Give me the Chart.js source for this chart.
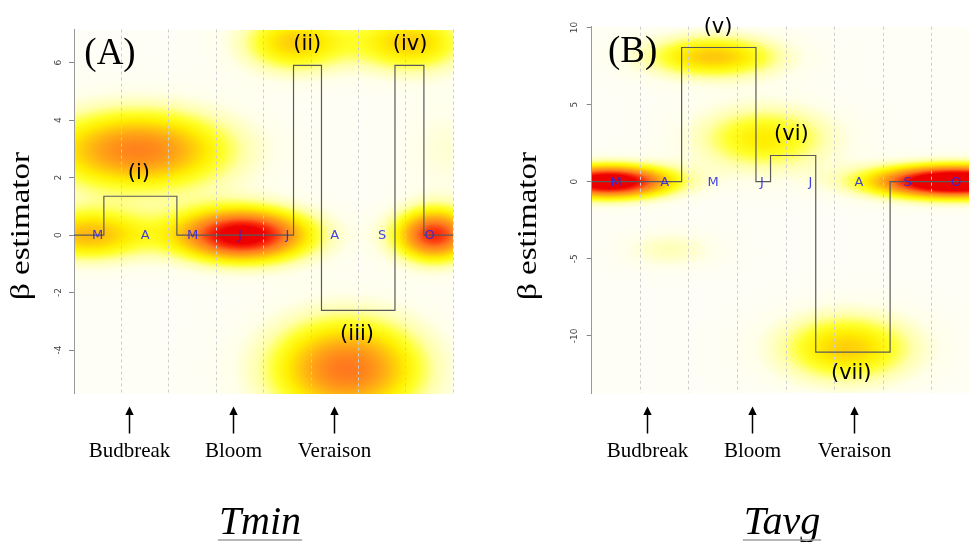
<!DOCTYPE html>
<html><head><meta charset="utf-8">
<script src="https://cdn.jsdelivr.net/npm/chart.js@4.4.1/dist/chart.umd.min.js"></script>
<style>
html,body{margin:0;padding:0;background:#fff;overflow:hidden;width:969px;height:542px;}
#wrap{position:relative;width:969px;height:542px;overflow:hidden;}
canvas{position:absolute;top:0;}
#cA{left:0;} #cB{left:480px;}
</style></head><body>
<div id="wrap"><canvas id="cA" width="480" height="542"></canvas><canvas id="cB" width="520" height="542"></canvas></div>
<script>
// ---------- data ----------
const months = ['M','A','M','J','J','A','S','O'];
const monthEdges = [0,1,2,3,4,5,6,7,8];
const yTicksA = [-4,-2,0,2,4,6];
const yTicksB = [-10,-5,0,5,10];
// step-wise beta estimator (x in months since start of March)
const stepXA = [0, 0.63, 2.17, 4.63, 5.22, 6.77, 7.38, 8];
const stepYA = [0, 1.35, 0, 5.9, -2.62, 5.9, 0, 0];
const stepXB = [0, 1.85, 3.38, 3.68, 4.61, 6.14, 8];
const stepYB = [0, 8.7, 0, 1.7, -11.05, 0, 0];
// posterior density blobs (centre x, centre y, spread x, spread y, peak)
const blobXA  = [1.35, 3.55, 0.30, 7.60, 4.65, 7.10, 5.75, 7.80];
const blobYA  = [2.95, 0.00, 0.00, 0.00, 6.70, 6.70, -4.65, 3.00];
const blobSXA = [1.40, 1.00, 0.90, 0.60, 0.80, 0.85, 1.15, 0.60];
const blobSYA = [1.00, 0.65, 0.65, 0.65, 0.75, 0.75, 1.25, 1.20];
const blobPA  = [0.72, 1.10, 0.55, 0.90, 0.50, 0.50, 0.75, 0.12];
const blobXB  = [0.35, 7.50, 2.50, 3.55, 1.60, 5.25];
const blobYB  = [0.00, 0.00, 8.10, 2.80, -4.40, -10.80];
const blobSXB = [0.90, 1.20, 1.00, 1.00, 0.70, 1.00];
const blobSYB = [0.74, 0.74, 1.00, 1.50, 0.90, 1.60];
const blobPB  = [1.20, 1.35, 0.52, 0.42, 0.17, 0.50];
// phenology stages
const stageNames = ['Budbreak','Bloom','Veraison'];
const stagesA = [1.15, 3.35, 5.49];
const stagesB = [1.13, 3.29, 5.40];
// regime labels
const regimeA = ['(i)','(ii)','(iii)','(iv)'];
const regimeXA = [1.37, 4.92, 5.97, 7.09];
const regimeYA = [2.14, 6.63, -3.46, 6.63];
const regimeB = ['(v)','(vi)','(vii)'];
const regimeXB = [2.60, 4.11, 5.34];
const regimeYB = [10.0, 3.03, -12.44];

// ---------- colour map ----------
const cstops = [
  [0.00,255,254,246],[0.08,255,255,234],[0.20,255,255,170],[0.32,255,255,40],
  [0.42,255,238,0],[0.60,255,170,20],[0.75,255,120,30],[0.90,250,40,10],[1.00,236,0,0]];
function cmap(t){
  if(t<=0) return cstops[0].slice(1);
  if(t>=1) return cstops[cstops.length-1].slice(1);
  for(let k=1;k<cstops.length;k++){
    if(t<=cstops[k][0]){
      const a=cstops[k-1], b=cstops[k], f=(t-a[0])/(b[0]-a[0]);
      return [a[1]+(b[1]-a[1])*f, a[2]+(b[2]-a[2])*f, a[3]+(b[3]-a[3])*f];
    }
  }
}

const heatPlugin = {
  id:'heat',
  beforeDraw(chart, args, o){
    const {ctx, chartArea:a, scales:{x,y}} = chart;
    const L=Math.round(a.left), T=Math.round(a.top);
    const W=Math.round(a.right)-L, H=Math.round(a.bottom)-T;
    const img=ctx.createImageData(W,H);
    const nb=o.bx.length;
    const col=[], row=[];
    for(let b=0;b<nb;b++){
      const c=new Float64Array(W), r=new Float64Array(H);
      for(let i=0;i<W;i++){const v=x.getValueForPixel(L+i+0.5);const d=(v-o.bx[b])/o.sx[b];c[i]=o.p[b]*Math.exp(-0.5*d*d);}
      for(let j=0;j<H;j++){const v=y.getValueForPixel(T+j+0.5);const d=(v-o.by[b])/o.sy[b];r[j]=Math.exp(-0.5*d*d);}
      col.push(c); row.push(r);
    }
    for(let j=0;j<H;j++){
      for(let i=0;i<W;i++){
        let t=0; for(let b=0;b<nb;b++) t+=col[b][i]*row[b][j];
        const c=cmap(t); const k=(j*W+i)*4;
        img.data[k]=c[0]; img.data[k+1]=c[1]; img.data[k+2]=c[2]; img.data[k+3]=255;
      }
    }
    ctx.putImageData(img,L,T);
  }
};

const notesPlugin = {
  id:'notes',
  afterDraw(chart, args, o){
    const {ctx, chartArea:a, scales:{x,y}} = chart;
    ctx.save();
    // month letters along zero
    ctx.font='13px "DejaVu Sans"'; ctx.fillStyle='rgba(40,40,228,0.88)';
    ctx.textAlign='center'; ctx.textBaseline='middle';
    months.forEach((m,i)=>{
      const xc=(monthEdges[i]+monthEdges[i+1])/2;
      ctx.fillText(m, x.getPixelForValue(xc), y.getPixelForValue(0)+0.5);
    });
    // regime labels
    ctx.font='21px "DejaVu Sans"'; ctx.fillStyle='#000';
    o.regime.forEach((t,i)=> ctx.fillText(t, x.getPixelForValue(o.rx[i]), y.getPixelForValue(o.ry[i])));
    // panel tag
    ctx.font='37px "Liberation Serif"'; ctx.textBaseline='alphabetic';
    ctx.fillText(o.tag, a.left+o.tagDx, o.tagY);
    // y title
    ctx.save();
    ctx.translate(o.titleX, 226); ctx.rotate(-Math.PI/2);
    ctx.font='27px "Liberation Serif"';
    const w=ctx.measureText('β estimator').width;
    ctx.scale(148/w,1);
    ctx.fillText('β estimator',0,0);
    ctx.restore();
    // phenology arrows
    ctx.strokeStyle='#000'; ctx.lineWidth=1.5;
    ctx.font='21px "Liberation Serif"';
    o.stages.forEach((s,i)=>{
      const px=Math.round(x.getPixelForValue(s))+0.5;
      ctx.beginPath(); ctx.moveTo(px,406.5); ctx.lineTo(px-4.2,415); ctx.lineTo(px+4.2,415); ctx.closePath(); ctx.fill();
      ctx.beginPath(); ctx.moveTo(px,414); ctx.lineTo(px,433.5); ctx.stroke();
      ctx.fillText(stageNames[i], px, 456.5);
    });
    // bottom variable title
    ctx.font='italic 40px "Liberation Serif"';
    const tw=ctx.measureText(o.varName).width;
    ctx.fillText(o.varName, o.varX, 533.5);
    ctx.strokeStyle='#a0a0a0'; ctx.lineWidth=1.3;
    ctx.beginPath(); ctx.moveTo(o.varX-tw/2-1,540); ctx.lineTo(o.varX+tw/2+1,540); ctx.stroke();
    ctx.restore();
  }
};

function makeChart(id, c){
  const data = c.sx.map((v,i)=>({x:v, y:c.sy[i]}));
  return new Chart(document.getElementById(id), {
    type:'line',
    data:{datasets:[{data, stepped:'before', borderColor:'#5a5a5a', borderWidth:1.2,
      pointRadius:0, fill:false, tension:0}]},
    options:{
      responsive:false, animation:false, devicePixelRatio:1,
      layout:{padding:{left:0, top:c.top, right:c.right, bottom:c.bottom}},
      plugins:{legend:{display:false}, tooltip:{enabled:false},
        heat:{bx:c.bx, by:c.by, sx:c.bsx, sy:c.bsy, p:c.bp},
        notes:c.notes},
      scales:{
        x:{type:'linear', min:0, max:8,
          afterBuildTicks:s=>{s.ticks=monthEdges.map(v=>({value:v}));},
          afterFit:s=>{s.height=0;},
          ticks:{display:false},
          grid:{color:'#cdcdcd', lineWidth:1, drawTicks:false},
          border:{display:false, dash:[3,3]}},
        y:{type:'linear', min:c.ymin, max:c.ymax,
          afterBuildTicks:s=>{s.ticks=c.yticks.map(v=>({value:v}));},
          afterFit:s=>{s.width=c.yw;},
          ticks:{minRotation:90, maxRotation:90, crossAlign:'center', padding:c.tpad,
            color:'#444', font:{family:'DejaVu Sans', size:9}},
          grid:{drawOnChartArea:false, drawTicks:true, tickLength:5, tickColor:'#888'},
          border:{display:true, color:'#999', width:1}}
      }
    },
    plugins:[heatPlugin, notesPlugin]
  });
}

makeChart('cA', {sx:stepXA, sy:stepYA, bx:blobXA, by:blobYA, bsx:blobSXA, bsy:blobSYA, bp:blobPA,
  top:29.5, right:26.7, bottom:148.5, yw:74, ymin:-5.51, ymax:7.15, yticks:yTicksA, tpad:6.2,
  notes:{regime:regimeA, rx:regimeXA, ry:regimeYA, tag:'(A)', tagDx:36, tagY:64, titleX:29,
    stages:stagesA, varName:'Tmin', varX:260}});
makeChart('cB', {sx:stepXB, sy:stepYB, bx:blobXB, by:blobYB, bsx:blobSXB, bsy:blobSYB, bp:blobPB,
  top:26.7, right:19.5, bottom:148.7, yw:111.7, ymin:-13.72, ymax:10.05, yticks:yTicksB, tpad:4.4,
  notes:{regime:regimeB, rx:regimeXB, ry:regimeYB, tag:'(B)', tagDx:41, tagY:62, titleX:56,
    stages:stagesB, varName:'Tavg', varX:302}});
</script>
</body></html>
